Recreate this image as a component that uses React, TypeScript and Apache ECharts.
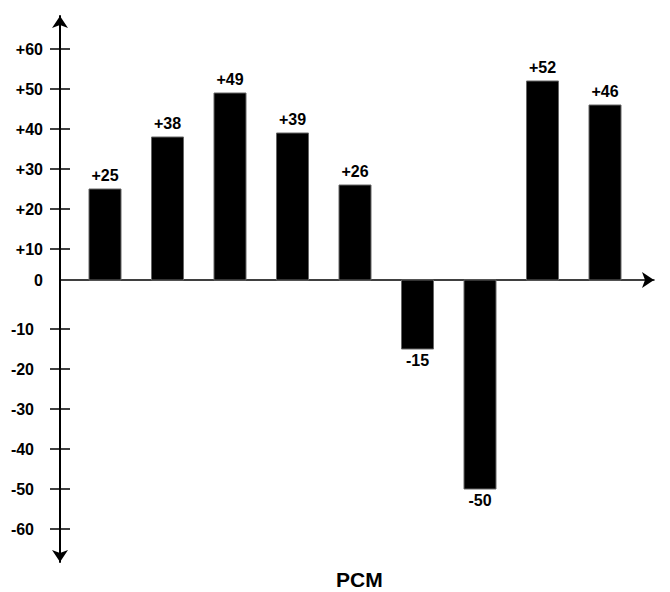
import React, { useEffect, useRef } from 'react';
import * as echarts from 'echarts';

// Bar values as labelled in the picture
const VALUES = [25, 38, 49, 39, 26, -15, -50, 52, 46];
// Tick values on the vertical axis (no tick drawn at zero)
const TICK_VALUES = [60, 50, 40, 30, 20, 10, -10, -20, -30, -40, -50, -60];
const ZERO_LABEL = '0';
const AXIS_TITLE = 'PCM';

// The drawn zero line sits slightly above the tick scale's zero
const BASELINE = 2.25;
const BAR_W = 32;
const FONT = "'Liberation Sans', Arial, Helvetica, sans-serif";

const fmt = (v: number) => (v > 0 ? `+${v}` : `${v}`);

export default function App() {
  const ref = useRef<HTMLDivElement>(null);

  useEffect(() => {
    const chart = echarts.init(ref.current as HTMLDivElement, null, { renderer: 'svg' });
    const labelText = { fontSize: 16, fontWeight: 'bold', fontFamily: FONT, color: '#000' };
    const axisLineStyle = { color: '#000', width: 2 };
    const tickLineStyle = { color: '#000', width: 1.5 };
    const yCommon: any = {
      type: 'value',
      min: -68.25,
      max: 68.25,
      position: 'left',
      splitLine: { show: false },
    };

    chart.setOption({
      animation: false,
      title: {
        text: AXIS_TITLE,
        left: 336,
        top: 569,
        padding: 0,
        textStyle: { fontSize: 21, fontWeight: 'bold', fontFamily: FONT, color: '#000' },
      },
      grid: { left: 60, right: 16, top: 16, bottom: 30 },
      xAxis: {
        type: 'value',
        min: -0.72,
        max: 8.784,
        axisLine: {
          show: true,
          onZero: true,
          onZeroAxisIndex: 2,
          symbol: ['none', 'arrow'],
          symbolSize: [12, 12],
          lineStyle: { color: '#000', width: 1.5 },
        },
        axisTick: { show: false },
        axisLabel: { show: false },
        splitLine: { show: false },
      },
      yAxis: [
        {
          ...yCommon,
          axisLine: {
            show: true,
            onZero: false,
            symbol: ['arrow', 'arrow'],
            symbolSize: [12, 12],
            lineStyle: axisLineStyle,
          },
          axisTick: { show: true, length: 10, customValues: TICK_VALUES, lineStyle: tickLineStyle },
          axisLabel: {
            show: true,
            margin: 17,
            customValues: [...TICK_VALUES, BASELINE],
            formatter: (v: number) =>
              v === BASELINE ? `{z|${ZERO_LABEL}}` : v < 0 ? `{n|${fmt(v)}}` : `{p|${fmt(v)}}`,
            rich: {
              p: { ...labelText },
              z: { ...labelText },
              n: { ...labelText, padding: [0, 9, 0, 0] },
            },
          },
        },
        {
          ...yCommon,
          axisLine: { show: false, onZero: false },
          axisTick: { show: true, inside: true, length: 10, customValues: TICK_VALUES, lineStyle: tickLineStyle },
          axisLabel: { show: false },
        },
        {
          type: 'value',
          min: -70.5,
          max: 66,
          position: 'left',
          show: false,
          splitLine: { show: false },
        },
      ],
      series: [
        {
          type: 'custom',
          xAxisIndex: 0,
          yAxisIndex: 0,
          data: VALUES.map((v, i) => [i, v]),
          renderItem: (params: any, api: any) => {
            const i = api.value(0) as number;
            const v = api.value(1) as number;
            const top = api.coord([i, v]);
            const base = api.coord([i, BASELINE]);
            const y0 = Math.min(top[1], base[1]);
            const h = Math.abs(top[1] - base[1]);
            const pos = v >= 0;
            return {
              type: 'group',
              children: [
                {
                  type: 'rect',
                  shape: { x: top[0] - BAR_W / 2, y: y0, width: BAR_W, height: h },
                  style: { fill: '#000', stroke: '#666', lineWidth: 1 },
                },
                {
                  type: 'text',
                  x: top[0],
                  y: pos ? top[1] - 6 : top[1] + 3,
                  style: {
                    text: fmt(v),
                    fill: '#000',
                    font: `bold 16px ${FONT}`,
                    align: 'center',
                    verticalAlign: pos ? 'bottom' : 'top',
                    textAlign: 'center',
                    textVerticalAlign: pos ? 'bottom' : 'top',
                  },
                },
              ],
            };
          },
        },
      ],
    });

    return () => chart.dispose();
  }, []);

  return (
    <div
      ref={ref}
      style={{ position: 'absolute', left: 0, top: 0, width: 670, height: 592, background: '#fff' }}
    />
  );
}
